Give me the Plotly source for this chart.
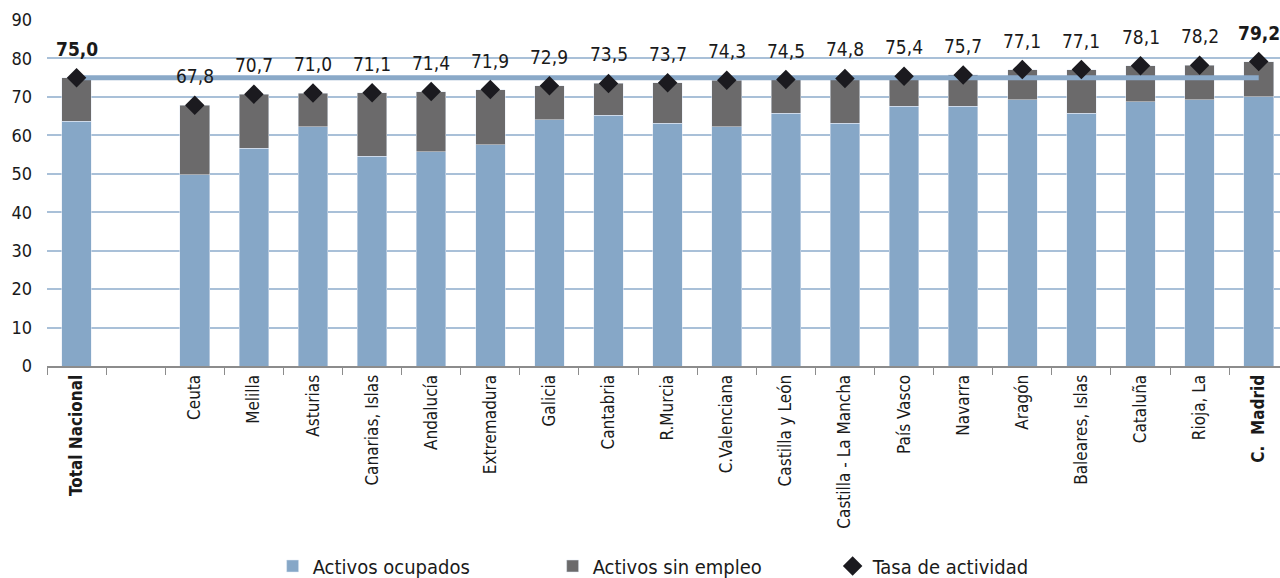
import plotly.graph_objects as go

categories = ["Total Nacional", " ", "Ceuta", "Melilla", "Asturias", "Canarias, Islas", "Andalucía",
              "Extremadura", "Galicia", "Cantabria", "R.Murcia", "C.Valenciana", "Castilla y León",
              "Castilla - La Mancha", "País Vasco", "Navarra", "Aragón", "Baleares, Islas",
              "Cataluña", "Rioja, La", "C.  Madrid"]
tasa = [75.0, None, 67.8, 70.7, 71.0, 71.1, 71.4, 71.9, 72.9, 73.5, 73.7, 74.3, 74.5, 74.8,
        75.4, 75.7, 77.1, 77.1, 78.1, 78.2, 79.2]
ocupados = [63.7, None, 49.7, 56.7, 62.2, 54.6, 55.7, 57.6, 64.1, 65.2, 63.1, 62.2, 65.7, 63.1,
            67.6, 67.6, 69.2, 65.7, 68.7, 69.2, 70.1]
bold_labels = ["Total Nacional", "C.  Madrid"]
yticks = [0, 10, 20, 30, 40, 50, 60, 70, 80, 90]

sin_empleo = [None if (t is None) else round(t - o, 1) for t, o in zip(tasa, ocupados)]
media = tasa[0]

FONT = "DejaVu Sans Condensed, Liberation Sans Narrow, Arial Narrow, Liberation Sans, Arial, sans-serif"
BLUE = "#86a7c7"
GRAY = "#6b6a6b"
GRID = "#a9c0d8"

fig = go.Figure()
fig.add_bar(x=categories, y=ocupados, name="Activos ocupados", marker_color=BLUE, width=0.5)
fig.add_bar(x=categories, y=sin_empleo, name="Activos sin empleo", marker_color=GRAY, width=0.5)
fig.add_scatter(x=categories, y=[media] * len(categories), mode="lines",
                line=dict(color="#8aa9c8", width=5), showlegend=False, hoverinfo="skip")
fig.add_scatter(x=categories, y=tasa, mode="markers", name="Tasa de actividad",
                marker=dict(symbol="diamond", size=15, color="#1b1a1f"))

for c, t in zip(categories, tasa):
    if t is None:
        continue
    txt = f"{t:.1f}".replace(".", ",")
    if c in bold_labels:
        txt = f"<b>{txt}</b>"
    fig.add_annotation(x=c, y=t, text=txt, showarrow=False, yshift=29,
                       font=dict(family=FONT, size=19, color="#1a1a1a"))

ticktext = [f"<b>{c}</b>" if c in bold_labels else c for c in categories]

fig.update_layout(
    barmode="stack",
    width=1280, height=578,
    margin=dict(l=47, r=0, t=20, b=212, autoexpand=False),
    plot_bgcolor="white", paper_bgcolor="white",
    font=dict(family=FONT, size=17, color="#1a1a1a"),
    bargap=0.5,
    xaxis=dict(type="category", categoryorder="array", categoryarray=categories,
               tickvals=categories, ticktext=ticktext, tickangle=-90,
               range=[-0.5, 20.36], showgrid=False, showline=True, linecolor="#8c8c8c",
               linewidth=2, ticks="outside", tickson="boundaries", ticklen=7,
               tickcolor="#8c8c8c", tickwidth=1, tickfont=dict(size=17), automargin=False),
    yaxis=dict(range=[0, 90], tickvals=yticks, showgrid=True, gridcolor=GRID, gridwidth=2,
               zeroline=False, showline=False, tickfont=dict(size=18), ticks="",
               ticklabelstandoff=14, automargin=False),
    legend=dict(orientation="h", x=0.183, xanchor="left", y=-0.578, yanchor="middle",
                font=dict(size=20), entrywidth=235, entrywidthmode="pixels",
                traceorder="normal"),
)

fig.write_html("out.html", config={"displayModeBar": False},
               post_script="document.body.style.margin='0px';document.body.style.overflow='hidden';")
